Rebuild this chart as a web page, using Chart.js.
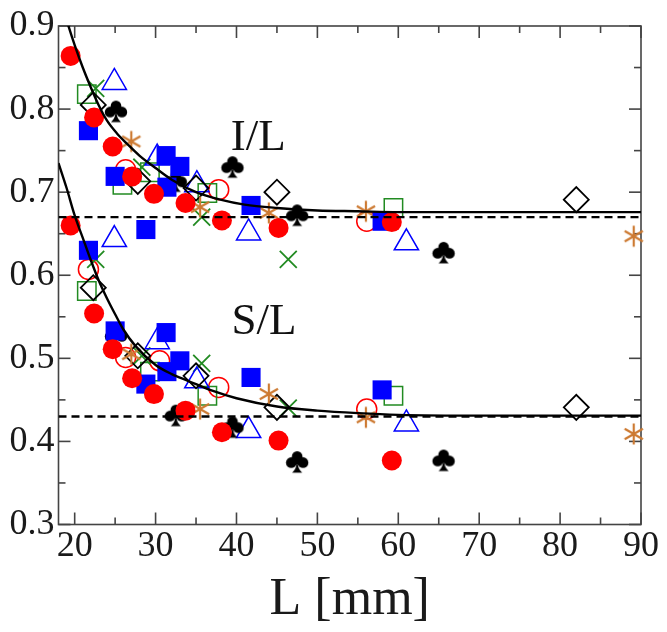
<!DOCTYPE html>
<html>
<head>
<meta charset="utf-8">
<script src="https://cdn.jsdelivr.net/npm/chart.js@4.4.1/dist/chart.umd.min.js"></script>
<style>
  html, body { margin: 0; padding: 0; background: #fff; }
</style>
</head>
<body>
<canvas id="chart" width="667" height="632"></canvas>
<script>
// --- axis ticks ---
const X_TICKS = [20, 30, 40, 50, 60, 70, 80, 90];
const X_MINOR = [25, 35, 45, 55, 65, 75, 85];
const Y_TICKS = [0.3, 0.4, 0.5, 0.6, 0.7, 0.8, 0.9];
const Y_MINOR = [0.35, 0.45, 0.55, 0.65, 0.75, 0.85];

// --- data: L [mm], I/L and S/L per marker type ---
const redFillL = [19.5, 22.4, 24.7, 27.1, 29.8, 33.7, 38.2, 45.2, 59.2];
const redFillI = [0.864, 0.790, 0.755, 0.719, 0.698, 0.687, 0.666, 0.657, 0.664];
const redFillS = [0.660, 0.554, 0.511, 0.476, 0.457, 0.437, 0.411, 0.401, 0.377];

const redOpenL = [21.7, 26.3, 30.5, 37.8, 56.1];
const redOpenI = [null, 0.727, null, 0.703, 0.665];
const redOpenS = [0.607, 0.501, 0.497, 0.465, 0.439];

const blueSqL = [21.7, 25.0, 28.8, 31.3, 31.4, 33.0, 41.8, 58.0];
const blueSqI = [0.774, 0.719, 0.655, 0.744, 0.706, 0.731, 0.684, 0.665];
const blueSqS = [0.630, 0.533, 0.469, 0.531, 0.484, 0.497, 0.477, 0.462];

const triL = [24.9, 30.2, 35.1, 41.5, 61.0];
const triI = [0.832, 0.741, 0.709, 0.651, 0.639];
const triS = [0.643, 0.520, 0.473, 0.413, 0.421];

const greenSqL = [21.5, 25.9, 29.3, 36.4, 59.4];
const greenSqI = [0.818, 0.709, 0.724, 0.699, 0.681];
const greenSqS = [0.581, null, 0.484, 0.455, 0.455];

const crossL = [22.6, 28.3, 35.7, 46.4];
const crossI = [0.825, 0.730, 0.670, 0.619];
const crossS = [0.619, 0.503, 0.494, 0.440];

const starL = [27.0, 35.5, 44.0, 56.0, 89.1];
const starI = [0.761, 0.682, 0.675, 0.677, 0.647];
const starS = [0.505, 0.439, 0.457, 0.429, 0.409];

const diamL = [22.3, 27.8, 35.0, 45.0, 82.0];
const diamI = [0.805, 0.713, 0.705, 0.700, 0.691];
const diamS = [0.585, 0.503, 0.479, 0.441, 0.441];

const clubL = [25.1, 32.5, 39.5, 47.5, 65.6];
const clubI = [0.797, 0.713, 0.730, 0.672, 0.627];
const clubS = [0.527, 0.431, 0.417, 0.375, 0.377];

// fitted curves
const fitIL_x = [18, 19.2, 20, 21, 22, 23, 24, 25.2, 26.5, 28, 30, 32, 35, 38, 41, 45, 50, 55, 60, 90];
const fitIL_y = [0.940, 0.901, 0.877, 0.850, 0.826, 0.804, 0.786, 0.771, 0.758, 0.744, 0.729, 0.715, 0.700, 0.691, 0.685, 0.681, 0.678, 0.677, 0.676, 0.676];
const fitSL_x = [18, 19, 20, 21, 22, 23, 24, 25, 26, 27.5, 30, 32, 34, 37, 40, 45, 50, 55, 60, 70, 90];
const fitSL_y = [0.735, 0.705, 0.672, 0.645, 0.618, 0.593, 0.572, 0.553, 0.535, 0.515, 0.492, 0.481, 0.473, 0.461, 0.452, 0.442, 0.437, 0.434, 0.432, 0.431, 0.431];

// asymptotes (dashed)
const asymX = [18, 90];
const asymIL = 0.67;
const asymSL = 0.43;

const SERIF = "'Liberation Serif', 'DejaVu Serif', serif";
const RED = '#ff0000', BLUE = '#0000ff', GREEN = '#228b22', ORANGE = '#cd7a32';

function pts(xs, ys) {
  return xs.map((x, i) => ({ x, y: ys[i] })).filter(p => p.y !== null);
}

// custom marker: club suit
function makeClub() {
  const c = document.createElement('canvas');
  c.width = 26; c.height = 26;
  const g = c.getContext('2d');
  g.fillStyle = '#000';
  const dot = (x, y, r) => { g.beginPath(); g.arc(x, y, r, 0, Math.PI * 2); g.fill(); };
  dot(13, 7.2, 5.3);
  dot(7.1, 13.4, 5.3);
  dot(18.9, 13.4, 5.3);
  dot(13, 12.2, 3.4);
  g.beginPath();
  g.moveTo(13, 11.5);
  g.quadraticCurveTo(12.5, 19.5, 8, 23.5);
  g.lineTo(18, 23.5);
  g.quadraticCurveTo(13.5, 19.5, 13, 11.5);
  g.fill();
  return c;
}

// custom marker: six-arm asterisk
function makeStar() {
  const c = document.createElement('canvas');
  c.width = 24; c.height = 24;
  const g = c.getContext('2d');
  g.strokeStyle = ORANGE;
  g.lineWidth = 2.2;
  const r = 10.5;
  for (let k = 0; k < 3; k++) {
    const a = Math.PI / 2 + k * Math.PI / 3;
    g.beginPath();
    g.moveTo(12 + Math.cos(a) * r, 12 + Math.sin(a) * r);
    g.lineTo(12 - Math.cos(a) * r, 12 - Math.sin(a) * r);
    g.stroke();
  }
  return c;
}

const clubImg = makeClub();
const starImg = makeStar();

function markers(label, xs, iv, sv, style) {
  return Object.assign({
    label,
    data: pts(xs, iv).concat(pts(xs, sv)),
    showLine: false,
    clip: false,
    pointHoverRadius: 0,
  }, style);
}

function curve(label, xs, ys, dash) {
  return {
    label,
    data: pts(xs, ys),
    showLine: true,
    borderColor: '#000',
    borderWidth: 2.4,
    borderDash: dash || [],
    pointRadius: 0,
    pointHoverRadius: 0,
    cubicInterpolationMode: 'monotone',
    fill: false,
  };
}

const datasets = [
  curve('fit I/L', fitIL_x, fitIL_y),
  curve('fit S/L', fitSL_x, fitSL_y),
  curve('I/L limit', asymX, asymX.map(() => asymIL), [8, 5]),
  curve('S/L limit', asymX, asymX.map(() => asymSL), [8, 5]),
  markers('red filled', redFillL, redFillI, redFillS, {
    pointStyle: 'circle', pointRadius: 10, backgroundColor: RED, borderColor: RED, borderWidth: 0 }),
  markers('blue squares', blueSqL, blueSqI, blueSqS, {
    pointStyle: 'rect', pointRadius: 13.5, backgroundColor: BLUE, borderColor: BLUE, borderWidth: 0 }),
  markers('clubs', clubL, clubI, clubS, { pointStyle: clubImg }),
  markers('asterisks', starL, starI, starS, { pointStyle: starImg }),
  markers('diamonds', diamL, diamI, diamS, {
    pointStyle: 'rectRot', pointRadius: 12.5, backgroundColor: 'rgba(0,0,0,0)', borderColor: '#000', borderWidth: 1.8 }),
  markers('triangles', triL, triI, triS, {
    pointStyle: 'triangle', pointRadius: 14, backgroundColor: 'rgba(0,0,0,0)', borderColor: BLUE, borderWidth: 1.5 }),
  markers('crosses', crossL, crossI, crossS, {
    pointStyle: 'crossRot', pointRadius: 12, borderColor: GREEN, borderWidth: 1.8 }),
  markers('green squares', greenSqL, greenSqI, greenSqS, {
    pointStyle: 'rect', pointRadius: 13, backgroundColor: 'rgba(0,0,0,0)', borderColor: GREEN, borderWidth: 1.5 }),
  markers('red open', redOpenL, redOpenI, redOpenS, {
    pointStyle: 'circle', pointRadius: 10, backgroundColor: 'rgba(0,0,0,0)', borderColor: RED, borderWidth: 1.5 }),
];

// frame with inward ticks on all four sides, plus the I/L and S/L labels
const framePlugin = {
  id: 'frame',
  beforeDatasetsDraw(chart) {
    const { ctx, chartArea: a, scales: { x, y } } = chart;
    ctx.save();
    ctx.strokeStyle = '#444';
    ctx.lineWidth = 1.6;
    ctx.strokeRect(a.left, a.top, a.right - a.left, a.bottom - a.top);
    const seg = (x1, y1, x2, y2) => { ctx.beginPath(); ctx.moveTo(x1, y1); ctx.lineTo(x2, y2); ctx.stroke(); };
    const xt = (vals, len) => vals.forEach(v => {
      const p = x.getPixelForValue(v);
      seg(p, a.bottom, p, a.bottom - len);
      seg(p, a.top, p, a.top + len);
    });
    const yt = (vals, len) => vals.forEach(v => {
      const p = y.getPixelForValue(v);
      seg(a.left, p, a.left + len, p);
      seg(a.right, p, a.right - len, p);
    });
    xt(X_TICKS, 12); xt(X_MINOR, 7);
    yt(Y_TICKS, 12); yt(Y_MINOR, 7);
    ctx.restore();
  },
  afterDatasetsDraw(chart) {
    const { ctx, scales: { x, y } } = chart;
    ctx.save();
    ctx.fillStyle = '#111';
    ctx.font = '45px ' + SERIF;
    ctx.textAlign = 'center';
    ctx.textBaseline = 'middle';
    ctx.fillText('I/L', x.getPixelForValue(42.7), y.getPixelForValue(0.765));
    ctx.fillText('S/L', x.getPixelForValue(43.4), y.getPixelForValue(0.544));
    ctx.restore();
  }
};

new Chart(document.getElementById('chart').getContext('2d'), {
  type: 'scatter',
  data: { datasets },
  options: {
    responsive: false,
    animation: false,
    events: [],
    layout: { padding: { top: 26, right: 26, left: 0, bottom: 0 } },
    plugins: {
      legend: { display: false },
      tooltip: { enabled: false },
    },
    scales: {
      x: {
        type: 'linear',
        min: 18,
        max: 90,
        afterBuildTicks: s => { s.ticks = X_TICKS.map(v => ({ value: v })); },
        afterFit: s => { s.height = 107.5; },
        grid: { display: false, drawTicks: false },
        border: { display: false },
        ticks: {
          font: { family: SERIF, size: 36 },
          color: '#1a1a1a',
          padding: 0,
          maxRotation: 0,
          autoSkip: false,
        },
        title: {
          display: true,
          text: 'L [mm]',
          font: { family: SERIF, size: 52 },
          color: '#1a1a1a',
          padding: { top: 0, bottom: 0 },
        },
      },
      y: {
        type: 'linear',
        min: 0.3,
        max: 0.9,
        afterBuildTicks: s => { s.ticks = Y_TICKS.map(v => ({ value: v })); },
        afterFit: s => { s.width = 58.5; },
        grid: { display: false, drawTicks: false },
        border: { display: false },
        ticks: {
          font: { family: SERIF, size: 36 },
          color: '#1a1a1a',
          padding: 4,
          callback: v => v.toFixed(1),
        },
      },
    },
  },
  plugins: [framePlugin],
});
</script>
</body>
</html>
